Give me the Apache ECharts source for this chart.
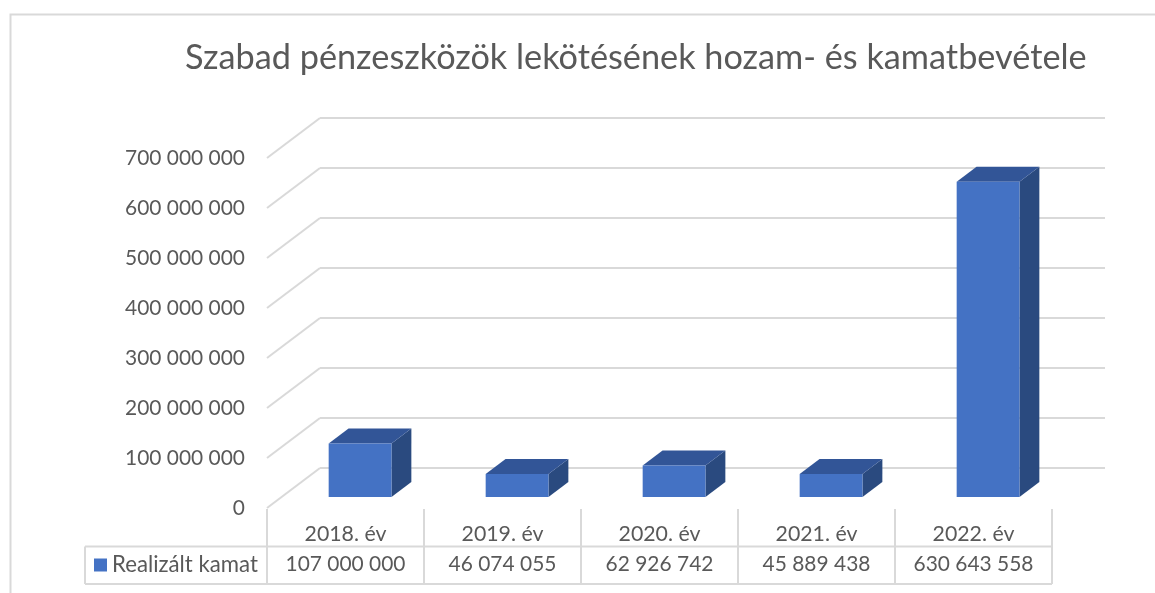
<!DOCTYPE html>
<html>
<head>
<meta charset="utf-8">
<script src="https://cdn.jsdelivr.net/npm/echarts@6/dist/echarts.min.js"></script>
<style>
  html, body { margin: 0; padding: 0; background: #ffffff; }
  #chart { width: 1155px; height: 593px; }
</style>
</head>
<body>
<div id="chart"></div>
<script>
// ---------- data ----------
const titleText = 'Szabad pénzeszközök lekötésének hozam- és kamatbevétele';
const seriesName = 'Realizált kamat';
const categories = ['2018. év', '2019. év', '2020. év', '2021. év', '2022. év'];
const values = [107000000, 46074055, 62926742, 45889438, 630643558];
const yTickValues = [0, 100000000, 200000000, 300000000, 400000000, 500000000, 600000000, 700000000];
const yMin = 0;
const yMax = 700000000;
const yInterval = 100000000;
const tableRows = ['values', 'years'];

// ---------- style / layout ----------
const FONT = 'Lato, "Open Sans", "Noto Sans", sans-serif';
const TEXT = '#595959';
const GRIDLINE = '#d9d9d9';
const FRONT = { left: 267, top: 158, width: 785, height: 350 };
const DEPTH = { dx: 53, dy: 40 };
const BAR = { widthRatio: 0.40, frontF: 0.275, backF: 0.65,
              front: '#4472C4', top: '#325597', side: '#2A4A7F' };
const TABLE = { top: 509, height: 75, legendLeft: 85 };

function fitFont(text, target) {
  const ctx = document.createElement('canvas').getContext('2d');
  ctx.font = '100px ' + FONT;
  return 100 * target / ctx.measureText(text).width;
}
const fs = fitFont('700 000 000', 120);
const yearFs = fitFont('2018. év', 82);
const legendFs = fitFont(seriesName, 146);
const titleFs = fitFont(titleText, 902);

function fmt(v) {
  return String(Math.round(v)).replace(/\B(?=(\d{3})+(?!\d))/g, ' ');
}

const chart = echarts.init(document.getElementById('chart'));

const option = {
  animation: false,
  backgroundColor: '#ffffff',
  textStyle: { fontFamily: FONT, color: TEXT },
  title: {
    text: titleText,
    left: 185,
    top: 41,
    padding: 0,
    textStyle: { fontFamily: FONT, fontSize: titleFs, fontWeight: 'normal', color: TEXT }
  },
  graphic: [{
    type: 'rect', left: 8, top: 12, silent: true, z: -10,
    shape: { width: 1300, height: 700 },
    style: { fill: 'none', stroke: GRIDLINE, lineWidth: 2 }
  }],
  legend: {
    data: [seriesName],
    left: 94, top: 554,
    itemWidth: 13, itemHeight: 13,
    icon: 'rect',
    padding: 0,
    textStyle: { fontFamily: FONT, fontSize: legendFs, color: TEXT }
  },
  grid: [
    { left: FRONT.left, top: FRONT.top, width: FRONT.width, height: FRONT.height },
    { left: FRONT.left + DEPTH.dx, top: FRONT.top - DEPTH.dy, width: FRONT.width, height: FRONT.height },
    { left: FRONT.left, top: TABLE.top, width: FRONT.width, height: TABLE.height }
  ],
  xAxis: [
    { gridIndex: 0, type: 'category', data: categories,
      axisLine: { show: false }, axisTick: { show: false }, axisLabel: { show: false }, splitLine: { show: false } },
    { gridIndex: 1, type: 'category', data: categories,
      axisLine: { show: false }, axisTick: { show: false }, axisLabel: { show: false }, splitLine: { show: false } },
    { gridIndex: 2, type: 'category', data: categories,
      axisLine: { show: false }, axisTick: { show: false }, axisLabel: { show: false },
      splitLine: { show: true, interval: 0, lineStyle: { color: GRIDLINE, width: 2 } } }
  ],
  yAxis: [
    { gridIndex: 0, type: 'value', min: yMin, max: yMax, interval: yInterval,
      axisLine: { show: false }, axisTick: { show: false }, splitLine: { show: false },
      axisLabel: { formatter: fmt, color: TEXT, fontSize: fs, fontFamily: FONT, margin: 22 } },
    { gridIndex: 1, type: 'value', min: yMin, max: yMax, interval: yInterval,
      axisLine: { show: false }, axisTick: { show: false }, axisLabel: { show: false },
      splitLine: { show: true, lineStyle: { color: GRIDLINE, width: 2 } } },
    { gridIndex: 2, type: 'category', data: tableRows,
      axisLine: { show: false }, axisTick: { show: false }, axisLabel: { show: false }, splitLine: { show: false } }
  ],
  series: [
    {
      // diagonal side-wall lines
      type: 'custom', name: 'walls', xAxisIndex: 0, yAxisIndex: 0, silent: true, z: 1,
      data: yTickValues.map(v => [0, v]),
      encode: { x: 0, y: 1 },
      renderItem: function (params, api) {
        const cs = params.coordSys;
        const y = api.coord([0, api.value(1)])[1];
        return {
          type: 'line',
          shape: { x1: cs.x, y1: y, x2: cs.x + DEPTH.dx, y2: y - DEPTH.dy },
          style: { stroke: GRIDLINE, lineWidth: 2 }
        };
      }
    },
    {
      type: 'custom', name: seriesName, xAxisIndex: 0, yAxisIndex: 0, z: 3,
      itemStyle: { color: BAR.front },
      data: values.map((v, i) => [i, v]),
      encode: { x: 0, y: 1 },
      renderItem: function (params, api) {
        const i = api.value(0), v = api.value(1);
        const base = api.coord([i, 0]);
        const topP = api.coord([i, v]);
        const w = api.size([1, 0])[0] * BAR.widthRatio;
        const fx = DEPTH.dx * BAR.frontF, fy = DEPTH.dy * BAR.frontF;
        const bx = DEPTH.dx * BAR.backF, by = DEPTH.dy * BAR.backF;
        const L = base[0] - w / 2, R = base[0] + w / 2, B = base[1], T = topP[1];
        return {
          type: 'group',
          children: [
            { type: 'polygon',
              shape: { points: [[R + fx, T - fy], [R + bx, T - by], [R + bx, B - by], [R + fx, B - fy]] },
              style: { fill: BAR.side } },
            { type: 'polygon',
              shape: { points: [[L + fx, T - fy], [L + bx, T - by], [R + bx, T - by], [R + fx, T - fy]] },
              style: { fill: BAR.top } },
            { type: 'rect',
              shape: { x: L + fx, y: T - fy, width: w, height: B - T },
              style: { fill: BAR.front } }
          ]
        };
      }
    },
    {
      // data table
      type: 'custom', name: 'table', xAxisIndex: 2, yAxisIndex: 2, silent: true, z: 2,
      data: categories.map((c, i) => [i, 0]),
      encode: { x: 0, y: 1 },
      renderItem: function (params, api) {
        const cs = params.coordSys;
        const i = api.value(0);
        const cx = api.coord([i, 0])[0];
        const yYears = api.coord([i, 1])[1] + 6;
        const yVals = api.coord([i, 0])[1] - 1;
        const children = [
          { type: 'text', style: { text: categories[i], x: cx, y: yYears, align: 'center', verticalAlign: 'middle',
              font: yearFs + 'px ' + FONT, fill: TEXT } },
          { type: 'text', style: { text: fmt(values[i]), x: cx, y: yVals, align: 'center', verticalAlign: 'middle',
              font: fs + 'px ' + FONT, fill: TEXT } }
        ];
        if (i === 0) {
          const mid = cs.y + cs.height / 2;
          const bot = cs.y + cs.height;
          const right = cs.x + cs.width;
          children.push(
            { type: 'line', shape: { x1: TABLE.legendLeft, y1: mid, x2: right, y2: mid }, style: { stroke: GRIDLINE, lineWidth: 2 } },
            { type: 'line', shape: { x1: TABLE.legendLeft, y1: bot, x2: right, y2: bot }, style: { stroke: GRIDLINE, lineWidth: 2 } },
            { type: 'line', shape: { x1: TABLE.legendLeft, y1: mid, x2: TABLE.legendLeft, y2: bot }, style: { stroke: GRIDLINE, lineWidth: 2 } }
          );
        }
        return { type: 'group', children: children };
      }
    }
  ]
};
chart.setOption(option);
</script>
</body>
</html>
